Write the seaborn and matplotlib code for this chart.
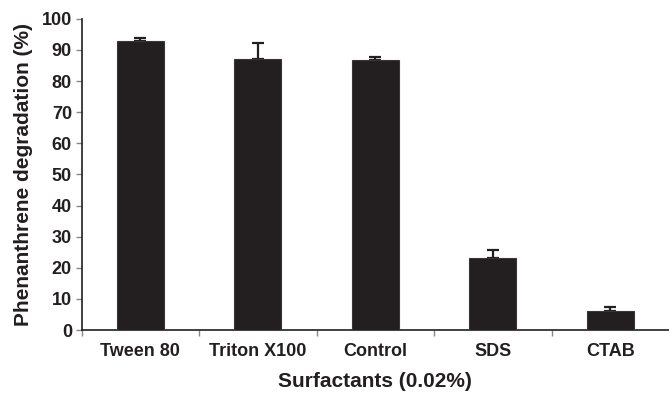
import matplotlib
matplotlib.use("Agg")
import matplotlib.pyplot as plt
import seaborn as sns
import pandas as pd
import numpy as np

categories = ["Tween 80", "Triton X100", "Control", "SDS", "CTAB"]
values = [93.0, 87.2, 86.7, 23.2, 6.2]
errors = [0.9, 4.9, 1.1, 2.7, 1.3]
yticks = [0, 10, 20, 30, 40, 50, 60, 70, 80, 90, 100]

sns.set_theme(style="ticks")
plt.rcParams['font.family'] = ['Liberation Sans', 'DejaVu Sans']
dark = "#231f20"

fig = plt.figure(figsize=(6.69, 3.93), dpi=100)
ax = fig.add_axes([0.122, 0.160, 0.878, 0.792])

df = pd.DataFrame({"cat": categories, "val": values})
sns.barplot(data=df, x="cat", y="val", color=dark, saturation=1, width=0.4,
            edgecolor="#3a3637", linewidth=0.8, ax=ax, errorbar=None, zorder=3)
ax.errorbar(np.arange(len(categories)), values, yerr=[[0]*len(errors), errors],
            fmt="none", ecolor=dark, elinewidth=1.6, capsize=4, capthick=1.6, zorder=2)

ax.set_xlim(-0.5, len(categories) - 0.5)
ax.set_ylim(0, 100)
ax.set_yticks(yticks)
ax.set_yticklabels([str(v) for v in yticks], fontsize=13, fontweight="bold", color=dark)

ax.set_xticks(np.arange(len(categories)) - 0.5)
ax.set_xticklabels([])
ax.set_xticks(np.arange(len(categories)), minor=True)
ax.set_xticklabels(categories, minor=True, fontsize=13, fontweight="bold", color=dark)
ax.tick_params(axis="x", which="major", length=4, width=1, color="#888888", direction="out")
ax.tick_params(axis="x", which="minor", length=0, pad=9)
ax.tick_params(axis="y", length=4, width=1, color="#888888", direction="out", pad=3)

ax.set_xlabel("Surfactants (0.02%)", fontsize=15, fontweight="bold", color=dark, labelpad=9)
ax.set_ylabel("Phenanthrene degradation (%)", fontsize=15, fontweight="bold", color=dark, labelpad=6)

for s in ["top", "right"]:
    ax.spines[s].set_visible(False)
for s in ["left", "bottom"]:
    ax.spines[s].set_color(dark)
    ax.spines[s].set_linewidth(1.2)

fig.savefig("out.png", dpi=100)
